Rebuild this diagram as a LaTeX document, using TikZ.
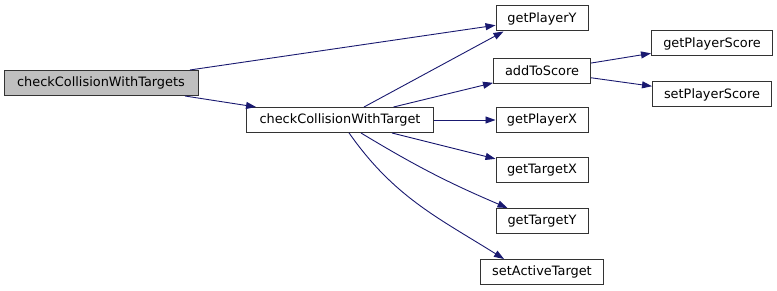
\documentclass[tikz,border=0pt]{standalone}
\usepackage{fontspec}
\setmainfont{DejaVu Sans}
\usepackage{tikz}
\usetikzlibrary{arrows.meta}
\definecolor{callblue}{RGB}{25,25,112}
\definecolor{rootgray}{RGB}{191,191,191}
\tikzset{
  fn/.style={draw=black!80, line width=1pt, fill=white, rectangle,
    inner sep=0pt, minimum height=25pt, font=\fontsize{12.9}{14}\selectfont},
  root/.style={fn, fill=rootgray},
  call/.style={draw=callblue, line width=0.9pt,
    -{Triangle[length=10pt,width=7pt]}, color=callblue}
}

\begin{document}
\begin{tikzpicture}[x=1pt,y=-1pt]
\useasboundingbox (0,0) rectangle (777,291);

% first column
\node[root, minimum width=194pt] (targets) at (101,83) {checkCollisionWithTargets};
% second column
\node[fn, minimum width=187pt] (target) at (340,120) {checkCollisionWithTarget};
% third column
\node[fn, minimum width=92pt] (getPlayerY) at (542,18.5) {getPlayerY};
\node[fn, minimum width=97pt] (addToScore) at (542,71) {addToScore};
\node[fn, minimum width=92pt] (getPlayerX) at (542,120) {getPlayerX};
\node[fn, minimum width=92pt] (getTargetX) at (542,170.5) {getTargetX};
\node[fn, minimum width=92pt] (getTargetY) at (542,221) {getTargetY};
\node[fn, minimum width=123pt] (setActive) at (542,272) {setActiveTarget};
% fourth column
\node[fn, minimum width=121pt] (getScore) at (712,43.5) {getPlayerScore};
\node[fn, minimum width=119pt] (setScore) at (712,94.5) {setPlayerScore};

\draw[call] (targets) -- (getPlayerY);
\draw[call] (targets) -- (target);
\draw[call] (target) -- ([xshift=8pt]getPlayerY.south west);
\draw[call] (target) -- (addToScore);
\draw[call] (target) -- (getPlayerX);
\draw[call] (target) -- (getTargetX);
\draw[call] (target) to[bend right=4] ([xshift=12pt]getTargetY.north west);
\draw[call] (target) to[out=-55,in=148] ([xshift=24pt]setActive.north west);
\draw[call] (addToScore) -- (getScore);
\draw[call] (addToScore) -- (setScore);
\end{tikzpicture}
\end{document}
